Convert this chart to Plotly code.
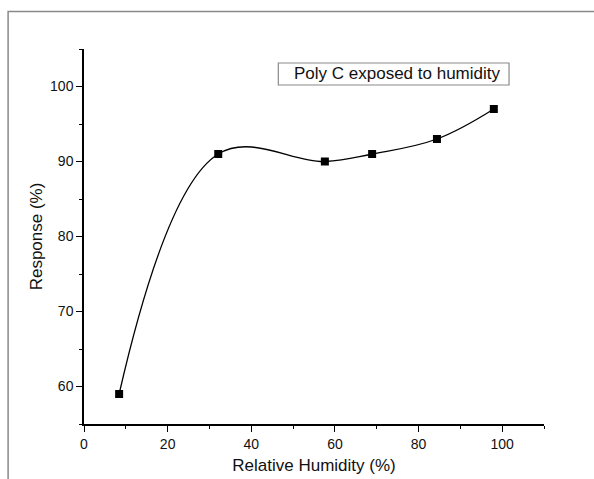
import plotly.graph_objects as go

# Data
humidity = [8.4, 32.1, 57.6, 68.9, 84.4, 98.0]
response = [59.0, 91.0, 90.0, 91.0, 93.0, 97.0]

x_ticks = [0, 20, 40, 60, 80, 100]
y_ticks = [60, 70, 80, 90, 100]

series_label = "Poly C exposed to humidity"
x_title = "Relative Humidity (%)"
y_title = "Response (%)"

FONT = "Liberation Sans, Arial, sans-serif"

fig = go.Figure()
fig.add_trace(go.Scatter(
    x=humidity, y=response, mode="lines",
    line=dict(color="black", width=1.3, shape="spline", smoothing=1.1),
    showlegend=False, hoverinfo="skip",
))
fig.add_trace(go.Scatter(
    x=humidity, y=response, mode="markers",
    marker=dict(symbol="square", size=8, color="black"),
    name=series_label, showlegend=False,
))

axis_common = dict(
    showline=True, linecolor="black", linewidth=1.5,
    ticks="outside", ticklen=6, tickwidth=1.3, tickcolor="black",
    showgrid=False, zeroline=False, mirror=False,
    tickfont=dict(family=FONT, size=14, color="#111111"),
)

fig.update_xaxes(
    range=[0, 110], tickvals=x_ticks,
    minor=dict(ticks="outside", ticklen=3, tickwidth=1.3, tickcolor="black", dtick=10, tick0=0),
    title=dict(text=x_title, font=dict(family=FONT, size=17, color="#111111"), standoff=9),
    **axis_common,
)
fig.update_yaxes(
    range=[55, 105], tickvals=y_ticks,
    minor=dict(ticks="outside", ticklen=3, tickwidth=1.3, tickcolor="black", dtick=5, tick0=0),
    title=dict(text=y_title, font=dict(family=FONT, size=17, color="#111111"), standoff=3),
    **axis_common,
)

# outer frame (grey rectangle running off the right/bottom edges)
fig.add_shape(type="rect", xref="paper", yref="paper",
              x0=-0.165, x1=1.2, y0=-0.3, y1=1.0999,
              line=dict(color="#8a8a8a", width=1.5), fillcolor="rgba(0,0,0,0)", layer="below")

# legend-like text box
fig.add_shape(type="rect", xref="paper", yref="paper",
              x0=0.4224, x1=0.924, y0=0.904, y1=0.9627,
              line=dict(color="#8a8a8a", width=1.2), fillcolor="white")
fig.add_annotation(text=series_label, xref="paper", yref="paper",
                   x=0.452, y=0.9334, xanchor="left", yanchor="middle",
                   showarrow=False, font=dict(family=FONT, size=17, color="#111111"))

fig.update_layout(
    width=594, height=479,
    margin=dict(l=83.5, r=50, t=49, b=54.5, autoexpand=False),
    paper_bgcolor="white", plot_bgcolor="white",
    showlegend=False,
)

fig.write_html("out.html")
